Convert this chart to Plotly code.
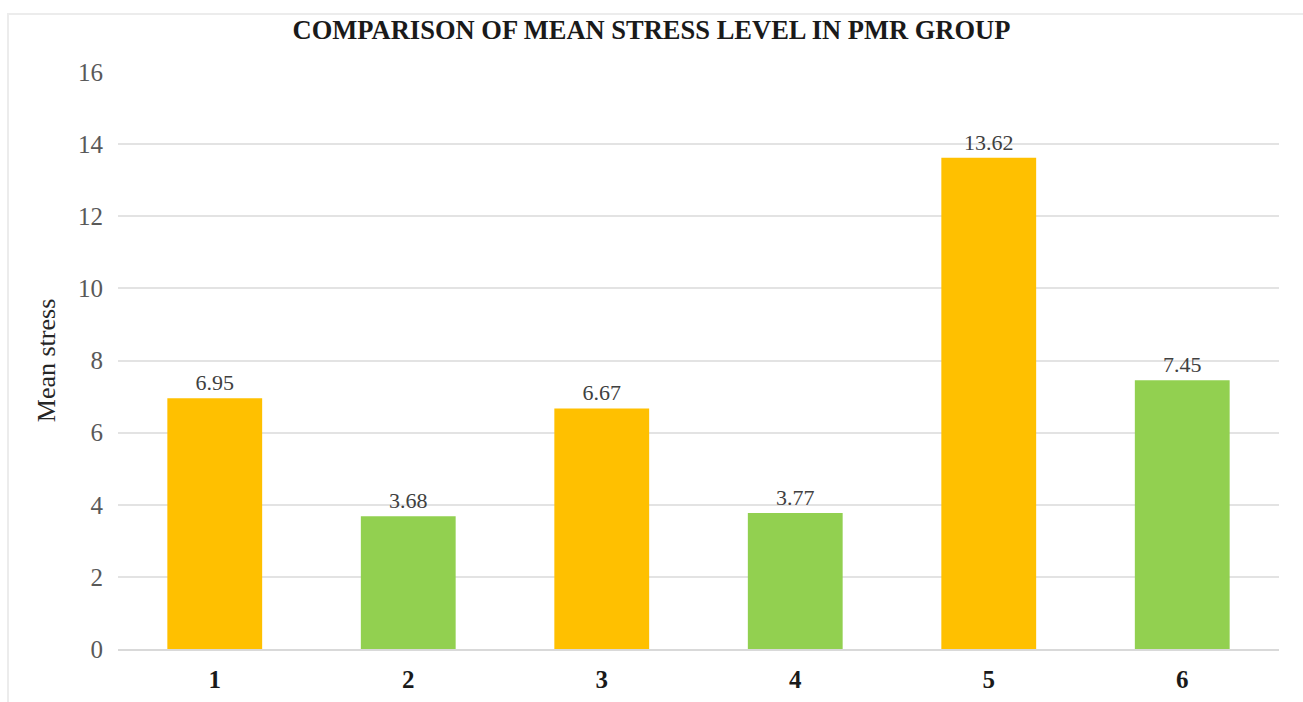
import plotly.graph_objects as go

# Session numbers and mean stress scores for the PMR group
sessions = ["1", "2", "3", "4", "5", "6"]
mean_stress = [6.95, 3.68, 6.67, 3.77, 13.62, 7.45]
bar_colors = ["#FFC000", "#92D050", "#FFC000", "#92D050", "#FFC000", "#92D050"]
y_ticks = [0, 2, 4, 6, 8, 10, 12, 14, 16]

serif = "'Liberation Serif', 'Times New Roman', Times, serif"

fig = go.Figure(
    go.Bar(
        x=sessions,
        y=mean_stress,
        marker=dict(color=bar_colors, line=dict(width=0)),
        text=[f"{v:.2f}" for v in mean_stress],
        textposition="outside",
        textfont=dict(family=serif, size=22, color="#404040"),
        cliponaxis=False,
        width=0.49,
    )
)

fig.update_layout(
    width=1303,
    height=702,
    margin=dict(l=118, r=24, t=72, b=53),
    paper_bgcolor="white",
    plot_bgcolor="white",
    showlegend=False,
    font=dict(family=serif),
    title=dict(
        text="<b>COMPARISON OF MEAN STRESS LEVEL IN PMR GROUP</b>",
        x=0.5,
        xanchor="center",
        y=0.957,
        yanchor="middle",
        font=dict(family=serif, size=26.5, color="#1a1a1a"),
    ),
    xaxis=dict(
        type="category",
        automargin=False,
        showgrid=False,
        showline=True,
        linecolor="#D9D9D9",
        linewidth=2,
        ticks="",
        tickfont=dict(family=serif, size=25, color="#1a1a1a"),
        tickprefix="<b>",
        ticksuffix="</b>",
        ticklabelstandoff=7,
    ),
    yaxis=dict(
        range=[0, 16],
        automargin=False,
        tickvals=y_ticks,
        showgrid=True,
        gridcolor="#E3E3E3",
        gridwidth=1.5,
        zeroline=False,
        showline=False,
        ticks="",
        tickfont=dict(family=serif, size=25, color="#595959"),
        ticklabelstandoff=14,
        title=dict(
            text="Mean stress",
            font=dict(family=serif, size=26, color="#262626"),
            standoff=14,
        ),
    ),
    shapes=[
        dict(
            type="rect",
            xref="paper",
            yref="paper",
            x0=(8 - 118) / 1161,
            x1=(1320 - 118) / 1161,
            y0=-0.2,
            y1=(649 - 14) / 577,
            line=dict(color="#ECECEC", width=2),
            fillcolor="rgba(0,0,0,0)",
            layer="below",
        )
    ],
)

fig.write_html("out.html")
